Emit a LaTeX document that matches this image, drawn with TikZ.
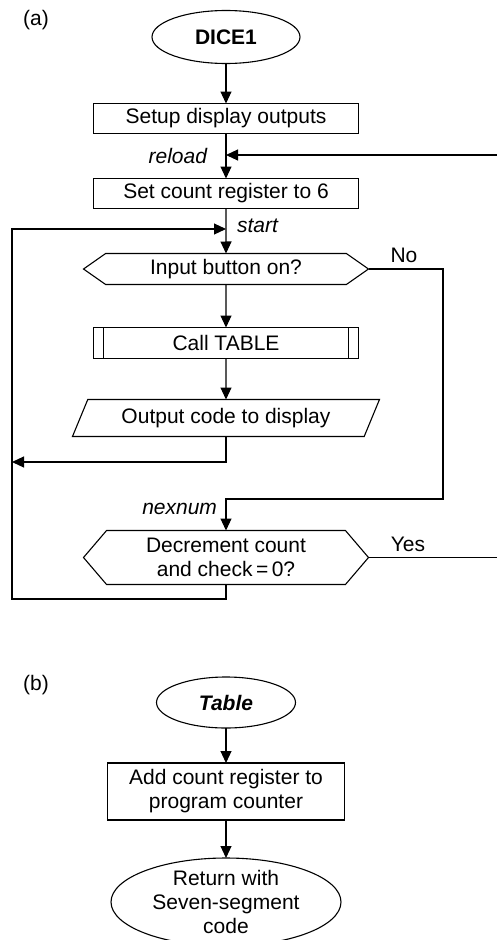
\documentclass[tikz,border=0pt]{standalone}
\usepackage{fontspec}
\setmainfont{Liberation Sans}
\usetikzlibrary{arrows.meta, positioning, shapes.geometric, shapes.symbols}

\begin{document}
\begin{tikzpicture}[
  x=1pt, y=-1pt,
  line width=1.1pt,
  every node/.style={font=\fontsize{21}{24}\selectfont, inner sep=0pt, outer sep=0pt},
  terminal/.style={draw, ellipse, align=center, minimum width=148pt, minimum height=53pt},
  procbox/.style={draw, rectangle, align=center, minimum width=265pt, minimum height=30pt},
  subbox/.style={procbox, minimum height=31pt, path picture={
      \draw ([xshift=10pt]path picture bounding box.north west) -- ([xshift=10pt]path picture bounding box.south west);
      \draw ([xshift=-10pt]path picture bounding box.north east) -- ([xshift=-10pt]path picture bounding box.south east);}},
  decision/.style={draw, signal, signal to=east and west, align=center, minimum width=285pt},
  iobox/.style={draw, trapezium, trapezium left angle=52, trapezium right angle=128,
                trapezium stretches body, minimum width=307pt, minimum height=37pt},
  tag/.style={font=\fontsize{21}{24}\selectfont\itshape},
  arrow/.style={-{Triangle[length=12pt, width=11pt]}}
]
\useasboundingbox (0,0) rectangle (497,940);
% (a) main routine
\node (parta) at (36,20) {(a)};
\node[terminal] (dice) at (226,37) {\textbf{DICE1}};
\node[procbox, below=40pt of dice] (setup) {Setup display outputs};
\node[procbox, below=45pt of setup] (setcount) {Set count register to 6};
\node[decision, minimum height=31pt, signal pointer angle=70, below=45pt of setcount] (input) {Input button on?};
\node[subbox, below=43pt of input] (calltab) {Call TABLE};
\node[iobox, below=41pt of calltab] (output) {Output code to display};
\node[decision, minimum height=54pt, signal pointer angle=99, below=94pt of output] (decr) {Decrement count\\and check\,=\,0?};
\coordinate (reloadin) at (497,155);
\coordinate (outjoin) at (12,462);
\coordinate (nobus) at (443,499);
\coordinate (yesout) at (497,557);
\coordinate (lbot) at (12,599);
\coordinate (ltop) at (12,229);
\node[tag, anchor=east] (reload) at (207,156) {reload};
\node[tag, anchor=west] (start) at (237,226) {start};
\node[tag, anchor=east] (nexnum) at (217,509) {nexnum};
\node (no) at (404,255) {No};
\node (yes) at (408,544) {Yes};
\draw[arrow] (dice) -- (setup);
\draw[arrow] (setup) -- (setcount);
\draw[arrow] (reloadin) -- (reloadin -| setup.south);
\draw[arrow] (setcount) -- (input);
\draw[arrow] (input) -- (calltab);
\draw[arrow] (calltab) -- (output);
\draw[arrow] (output.south) |- (outjoin);
\draw[arrow] (input.east) -| (nobus) -- (nobus -| decr.north) -- (decr.north);
\draw (decr.east) -- (decr.east -| yesout);
\draw[arrow] (decr.south) |- (lbot) -- (ltop) -- (ltop -| setcount.south);
% (b) table subroutine
\node (partb) at (36,685) {(b)};
\node[terminal, minimum width=139pt, minimum height=51pt] (table) at (226,702.5) {\textbf{\textit{Table}}};
\node[procbox, minimum width=237pt, minimum height=57pt, below=35pt of table] (addcnt) {Add count register to\\program counter};
\node[terminal, minimum width=230pt, minimum height=88pt, inner ysep=-3pt, below=38pt of addcnt] (ret) {Return with\\Seven-segment\\code};
\draw[arrow] (table) -- (addcnt);
\draw[arrow] (addcnt) -- (ret);
\end{tikzpicture}
\end{document}
